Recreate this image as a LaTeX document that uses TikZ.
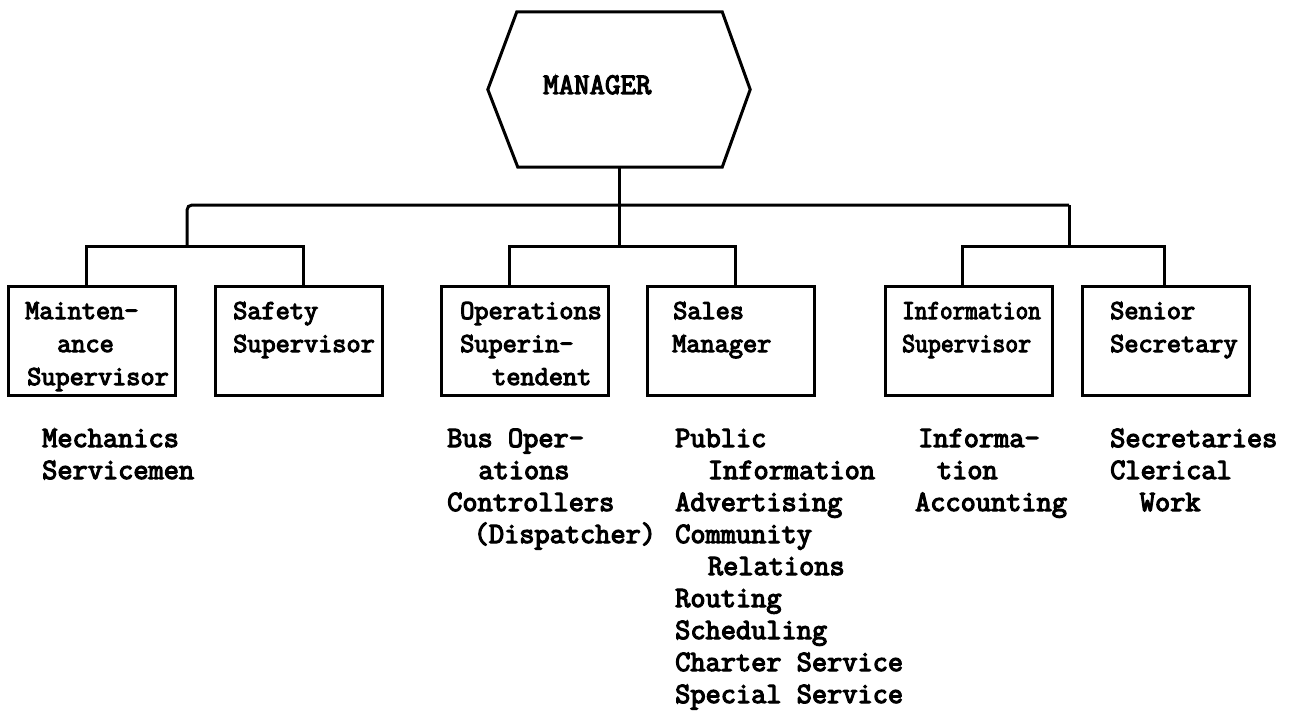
\documentclass[tikz,border=0pt]{standalone}
\usepackage{fontspec}
\usepackage{graphicx}
\newfontfamily\typew{Latin Modern Mono}[FakeBold=4]
\begin{document}
\begin{tikzpicture}[x=1pt,y=-1pt,
  wire/.style={line width=3pt, line join=miter},
  unit/.style={draw, line width=3pt, inner sep=0pt, minimum width=167pt, minimum height=109pt},
  hexbox/.style={inner sep=0pt, minimum width=262pt, minimum height=155pt},
  boxtxt/.style={font=\typew\fontsize{27.5}{27.5}\selectfont, inner sep=0pt, anchor=base west},
  lst/.style={font=\typew\fontsize{29.5}{29.5}\selectfont, inner sep=0pt, anchor=base west},
  mgr/.style={font=\typew\fontsize{30}{30}\selectfont, inner sep=0pt, anchor=base west}]
\useasboundingbox (0,0) rectangle (1297,714);

% top of the chart
\node[hexbox] (hex) at (619,89.5) {};
\draw[wire] ([xshift=29pt]hex.north west) -- ([xshift=-28pt]hex.north east) -- (hex.east)
  -- ([xshift=-28pt]hex.south east) -- ([xshift=30pt]hex.south west) -- (hex.west) -- cycle;
\node[mgr] (mgrtxt) at (543,94) {MANAGER};

% second-level boxes
\node[unit] (box1) at (92,340.5) {};
\node[unit] (box2) at (298.5,340.5) {};
\node[unit] (box3) at (524.5,340.5) {};
\node[unit] (box4) at (731,340.5) {};
\node[unit] (box5) at (968.5,340.5) {};
\node[unit] (box6) at (1165.5,340.5) {};

% branch points
\coordinate (busL) at (187,205);
\coordinate (busR) at (1069,205);
\coordinate (g1) at (187,246);
\coordinate (g1L) at (86,246);
\coordinate (g1R) at (303,246);
\coordinate (g2) at (619,246);
\coordinate (g2L) at (509,246);
\coordinate (g2R) at (735,246);
\coordinate (g3) at (1069,246);
\coordinate (g3L) at (962,246);
\coordinate (g3R) at (1164,246);

% connectors
\draw[wire] (hex.south) -- (g2);
\draw[wire, rounded corners=5pt] (g1) -- (busL) -- (busR);
\draw[wire] (busR) -- (g3);
\draw[wire] (g1L |- box1.north) -- (g1L) -- (g1R) -- (g1R |- box2.north);
\draw[wire] (g2L |- box3.north) -- (g2L) -- (g2R) -- (g2R |- box4.north);
\draw[wire] (g3L |- box5.north) -- (g3L) -- (g3R) -- (g3R |- box6.north);

% box titles
\node[boxtxt] (t11) at (25,319) {Mainten-};
\node[boxtxt] (t12) at (57,352) {ance};
\node[boxtxt] (t13) at (27,385) {Supervisor};
\node[boxtxt] (t21) at (233,319) {Safety};
\node[boxtxt] (t22) at (233,352) {Supervisor};
\node[boxtxt] (t31) at (460,319) {Operations};
\node[boxtxt] (t32) at (460,352) {Superin-};
\node[boxtxt] (t33) at (492,385) {tendent};
\node[boxtxt] (t41) at (673,319) {Sales};
\node[boxtxt] (t42) at (672,352) {Manager};
\node[boxtxt] (t51) at (902,319) {\scalebox{0.89}[1]{Information}};
\node[boxtxt] (t52) at (902,352) {\scalebox{0.91}[1]{Supervisor}};
\node[boxtxt] (t61) at (1110,319) {Senior};
\node[boxtxt] (t62) at (1110,352) {Secretary};

% duties under each box
\foreach \dx/\t [count=\i] in {0/Mechanics, 0/Servicemen}
  \node[lst] (mt\i) at (42+15.6*\dx, 447+32*\i-32) {\t};
\foreach \dx/\t [count=\i] in {0/{Bus Oper-}, 2/ations, 0/Controllers, 1.7/{(Dispatcher)}}
  \node[lst] (op\i) at (447+15.6*\dx, 447+32*\i-32) {\t};
\foreach \dx/\t [count=\i] in {0/Public, 2.1/Information, 0/Advertising, 0/Community,
    2.1/Relations, 0/Routing, 0/Scheduling, 0/{Charter Service}, 0/{Special Service}}
  \node[lst] (sl\i) at (675+15.6*\dx, 447+32*\i-32) {\t};
\foreach \dx/\t [count=\i] in {0/Informa-, 1.2/tion, -0.2/Accounting}
  \node[lst] (in\i) at (918+15.6*\dx, 447+32*\i-32) {\t};
\foreach \dx/\t [count=\i] in {0/Secretaries, 0/Clerical, 1.9/Work}
  \node[lst] (sc\i) at (1110+15.6*\dx, 447+32*\i-32) {\t};
\end{tikzpicture}
\end{document}
